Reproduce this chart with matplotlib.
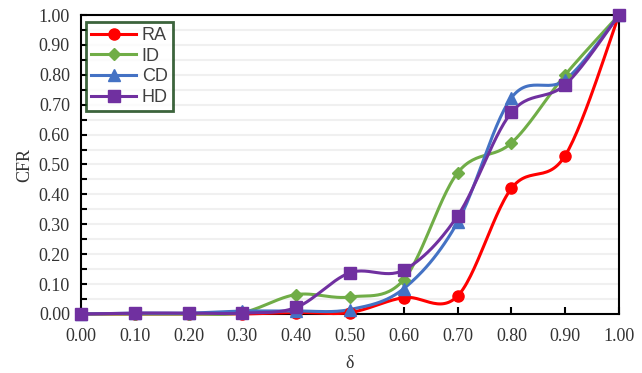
import numpy as np
import matplotlib
matplotlib.use("Agg")
import matplotlib.pyplot as plt
from matplotlib.ticker import MultipleLocator, FormatStrFormatter

delta = [0.0, 0.1, 0.2, 0.3, 0.4, 0.5, 0.6, 0.7, 0.8, 0.9, 1.0]
RA = [0.0, 0.0, 0.0, 0.0, 0.005, 0.005, 0.055, 0.060, 0.420, 0.530, 1.0]
ID = [0.0, 0.0, 0.0, 0.005, 0.065, 0.057, 0.115, 0.472, 0.572, 0.800, 1.0]
CD = [0.0, 0.003, 0.003, 0.01, 0.01, 0.015, 0.085, 0.307, 0.723, 0.783, 1.0]
HD = [0.0, 0.003, 0.003, 0.003, 0.022, 0.138, 0.147, 0.328, 0.674, 0.767, 1.0]

series = [("RA", RA, "#FF0000", "o", 8),
          ("ID", ID, "#70AD47", "D", 6.5),
          ("CD", CD, "#4472C4", "^", 8),
          ("HD", HD, "#7030A0", "s", 8)]


def smooth(x, y, n=30):
    x = np.asarray(x, float)
    y = np.asarray(y, float)
    P = np.column_stack([x, y])
    out = []
    for i in range(len(P) - 1):
        p0 = P[i - 1] if i > 0 else P[i]
        p1 = P[i]
        p2 = P[i + 1]
        p3 = P[i + 2] if i + 2 < len(P) else P[i + 1]
        c1 = p1 + (p2 - p0) / 6.0
        c2 = p2 - (p3 - p1) / 6.0
        t = np.linspace(0, 1, n)[:, None]
        b = ((1 - t) ** 3) * p1 + 3 * ((1 - t) ** 2) * t * c1 + 3 * (1 - t) * t ** 2 * c2 + t ** 3 * p2
        out.append(b if i == 0 else b[1:])
    B = np.vstack(out)
    return B[:, 0], B[:, 1]


fig = plt.figure(figsize=(6.42, 3.73), dpi=100)
ax = fig.add_axes([81 / 642, 1 - 314 / 373, (619 - 81) / 642, (314 - 15) / 373])

for name, vals, color, mk, ms in series:
    sx, sy = smooth(delta, vals)
    ax.plot(sx, sy, color=color, lw=2.2, zorder=3, solid_capstyle="round", clip_on=False)
    ax.plot(delta, vals, ls="none", marker=mk, ms=ms, color=color, zorder=4, clip_on=False)
    ax.plot([], [], color=color, lw=2.2, marker=mk, ms=ms, label=name)

ax.set_xlim(0, 1)
ax.set_ylim(0, 1)
ax.xaxis.set_major_locator(MultipleLocator(0.1))
ax.yaxis.set_major_locator(MultipleLocator(0.1))
ax.yaxis.set_minor_locator(MultipleLocator(0.05))
ax.xaxis.set_major_formatter(FormatStrFormatter("%.2f"))
ax.yaxis.set_major_formatter(FormatStrFormatter("%.2f"))
ax.grid(True, which="both", axis="y", color="#F0F0F0", lw=1.5, zorder=0)
ax.tick_params(axis="both", which="both", direction="in", length=4, width=1.5, color="black")
ax.tick_params(axis="x", which="major", length=5, pad=10)
ax.tick_params(axis="y", which="major", pad=8)
ax.tick_params(labelsize=13)
for lab in ax.get_xticklabels() + ax.get_yticklabels():
    lab.set_family("Liberation Serif")
    lab.set_color("#333333")
for s in ax.spines.values():
    s.set_linewidth(1.5)
    s.set_color("black")
    s.set_zorder(2.5)

ax.set_ylabel("CFR", family="Liberation Serif", fontsize=13, color="#333333", labelpad=4)
ax.set_xlabel("δ", family="Liberation Serif", fontsize=13, color="#333333", labelpad=7)

leg = ax.legend(loc="upper left", bbox_to_anchor=(0.009, 0.978), frameon=True, fancybox=False,
                prop={"family": "Liberation Sans", "size": 13}, handlelength=2.5, borderpad=0.3,
                labelspacing=0.2, handletextpad=0.3, borderaxespad=0)
leg.get_frame().set_edgecolor("#0B3D0B")
leg.get_frame().set_linewidth(2)
leg.set_zorder(5)
for t in leg.get_texts():
    t.set_color("#404040")

fig.savefig("out.png", dpi=100)
